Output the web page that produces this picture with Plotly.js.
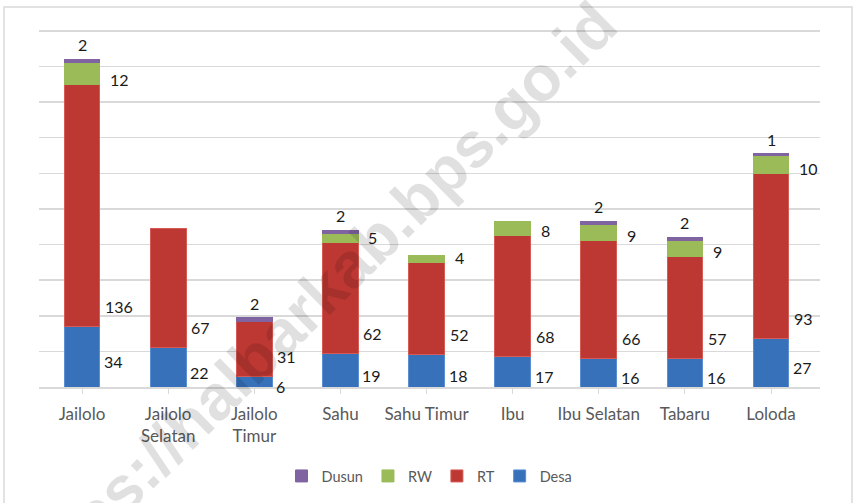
<!DOCTYPE html>
<html>
<head>
<meta charset="utf-8">
<script src="https://cdn.plot.ly/plotly-3.0.1.min.js"></script>
<style>html,body{margin:0;padding:0;background:#fff;}#chart{width:854px;height:503px;}</style>
</head>
<body>
<div id="chart"></div>
<script>
// Data
const categories = ["Jailolo", "Jailolo<br>Selatan", "Jailolo<br>Timur", "Sahu", "Sahu Timur", "Ibu", "Ibu Selatan", "Tabaru", "Loloda"];
const desa  = [34, 22, 6, 19, 18, 17, 16, 16, 27];
const rt    = [136, 67, 31, 62, 52, 68, 66, 57, 93];
const rw    = [12, null, null, 5, 4, 8, 9, 9, 10];
const dusun = [2, null, 2, 2, null, null, 2, 2, 1];
const seriesNames = ["Desa", "RT", "RW", "Dusun"];
const gridValues = [0, 20, 40, 60, 80, 100, 120, 140, 160, 180, 200];
const watermark = "https://halbarkab.bps.go.id";

const colors = {
  Desa:  {fill: "#3671BA", line: "#5a8fd2"},
  RT:    {fill: "#BD3733", line: "#d65a55"},
  RW:    {fill: "#9BBB59", line: "#9BBB59"},
  Dusun: {fill: "#8064A2", line: "#8064A2"}
};
const series = [desa, rt, rw, dusun];

const traces = series.map((vals, i) => ({
  type: "bar",
  name: seriesNames[i],
  x: categories,
  y: vals,
  marker: {color: colors[seriesNames[i]].fill, line: {color: colors[seriesNames[i]].line, width: 1}},
  hoverinfo: "x+y+name"
}));

const labelFont = {family: "Lato, 'Open Sans', sans-serif", size: 16, color: "#1a1a1a"};
const annotations = [];
categories.forEach((c, k) => {
  const d = desa[k] || 0, r = rt[k] || 0, w = rw[k] || 0, u = dusun[k] || 0;
  annotations.push({x: c, y: d / 2, text: String(desa[k]), showarrow: false,
    xanchor: "left", yanchor: "middle", xshift: 20, yshift: -5, font: labelFont});
  annotations.push({x: c, y: d, text: String(rt[k]), showarrow: false,
    xanchor: "left", yanchor: "middle", xshift: 21, yshift: 20, font: labelFont});
  if (rw[k] !== null) {
    annotations.push({x: c, y: d + r, text: String(rw[k]), showarrow: false,
      xanchor: "left", yanchor: "middle", xshift: 26, yshift: 5, font: labelFont});
  }
  if (dusun[k] !== null) {
    annotations.push({x: c, y: d + r + w + u, text: String(dusun[k]), showarrow: false,
      xanchor: "center", yanchor: "bottom", xshift: 0, yshift: 3, font: labelFont});
  }
});
annotations.push({xref: "paper", yref: "paper", x: 0.352, y: 0.232, text: watermark,
  showarrow: false, textangle: -44.5, xanchor: "center", yanchor: "middle",
  font: {family: "'Liberation Sans', Arial, sans-serif", size: 64, color: "rgba(0,0,0,0.12)", weight: "bold"}});

const layout = {
  width: 854, height: 503,
  margin: {l: 39, r: 34, t: 13, b: 116, autoexpand: false},
  paper_bgcolor: "#ffffff", plot_bgcolor: "rgba(0,0,0,0)",
  barmode: "stack", bargap: 0.585,
  showlegend: true,
  legend: {orientation: "h", x: 0.5, xanchor: "center", y: -0.238, yanchor: "middle",
    traceorder: "reversed", font: {family: "Lato, 'Open Sans', sans-serif", size: 14.5, color: "#595959"}},
  xaxis: {type: "category", automargin: false, showline: true, linecolor: "#d9d9d9", linewidth: 1.5,
    ticks: "outside", ticklen: 5, tickcolor: "#d9d9d9", showgrid: false, ticklabelstandoff: 6,
    tickfont: {family: "Lato, 'Open Sans', sans-serif", size: 17, color: "#595959"}},
  yaxis: {range: [0, 210], tickmode: "array", tickvals: gridValues, showticklabels: false, showgrid: true, automargin: false,
    gridcolor: "#d9d9d9", gridwidth: 1.5, zeroline: false, showline: false, ticks: ""},
  annotations: annotations,
  shapes: [{type: "rect", xref: "paper", yref: "paper", x0: -0.0448, x1: 1.0410, y0: -0.6, y1: 1.016,
    line: {color: "#d9d9d9", width: 1.5}, fillcolor: "rgba(0,0,0,0)", layer: "below"}]
};

Plotly.newPlot("chart", traces, layout, {displayModeBar: false, staticPlot: true});
</script>
</body>
</html>
